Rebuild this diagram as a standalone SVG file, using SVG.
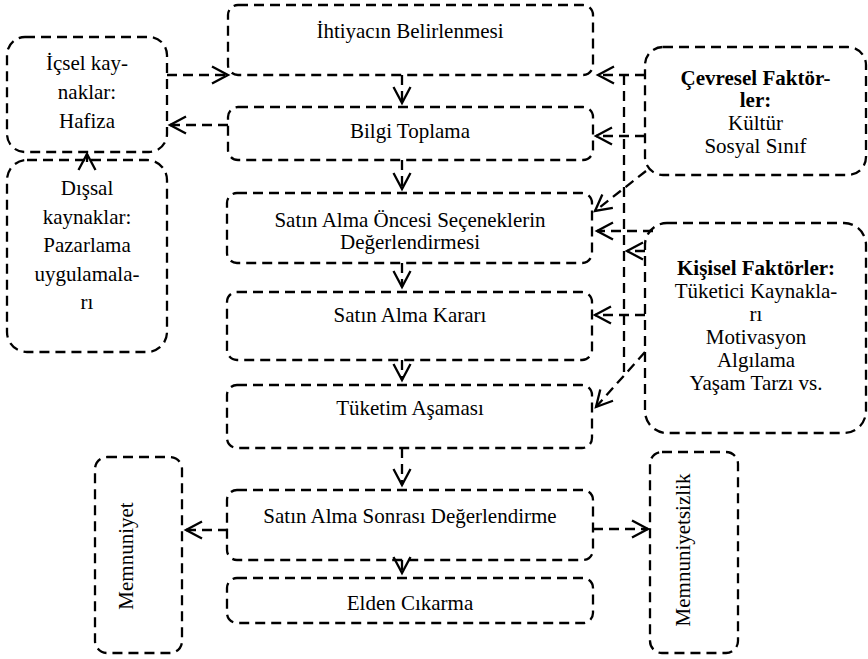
<svg xmlns="http://www.w3.org/2000/svg" width="868" height="659" viewBox="0 0 868 659">
<style>
.box{fill:none;stroke:#000;stroke-width:2.3;stroke-dasharray:10 6}
.con{fill:none;stroke:#000;stroke-width:2.3;stroke-dasharray:10 6}
.arr{marker-end:url(#arr)}
text{font-family:"Liberation Serif","Times New Roman",serif;font-size:21px;fill:#000;text-anchor:middle}
.b{font-weight:bold}
</style>
<defs>
<marker id="arr" viewBox="-19 -11 22 22" refX="0" refY="0" markerWidth="22" markerHeight="22" orient="auto" markerUnits="userSpaceOnUse">
<path d="M-16,-8.5 L0,0 L-16,8.5" fill="none" stroke="#000" stroke-width="2.3" stroke-dasharray="none"/>
</marker>
</defs>
<rect width="868" height="659" fill="#fff"/>

<g id="n-ihtiyac"><rect class="box" x="228" y="5" width="365" height="70" rx="10"/><text x="410" y="38">İhtiyacın Belirlenmesi</text></g>
<g id="n-bilgi"><rect class="box" x="228" y="107" width="365" height="53" rx="10"/><text x="410" y="138">Bilgi Toplama</text></g>
<g id="n-oncesi"><rect class="box" x="227" y="193" width="365" height="70" rx="10"/><text x="410" y="227">Satın Alma Öncesi Seçeneklerin</text><text x="410" y="249">Değerlendirmesi</text></g>
<g id="n-karar"><rect class="box" x="227" y="292" width="365" height="68" rx="10"/><text x="410" y="322">Satın Alma Kararı</text></g>
<g id="n-tuketim"><rect class="box" x="227" y="385" width="365" height="63" rx="10"/><text x="410" y="415">Tüketim Aşaması</text></g>
<g id="n-sonrasi"><rect class="box" x="227" y="490" width="366" height="70" rx="10"/><text x="410" y="523">Satın Alma Sonrası Değerlendirme</text></g>
<g id="n-elden"><rect class="box" x="227" y="578" width="366" height="45" rx="10"/><text x="410" y="610">Elden Cıkarma</text></g>

<g id="n-icsel"><rect class="box" x="7" y="37" width="160" height="115" rx="18"/><text x="87" y="70">İçsel kay-</text><text x="87" y="99">naklar:</text><text x="87" y="128">Hafiza</text></g>
<g id="n-dissal"><rect class="box" x="7" y="160" width="160" height="192" rx="20"/><text x="87" y="195">Dışsal</text><text x="87" y="223.5">kaynaklar:</text><text x="87" y="252">Pazarlama</text><text x="87" y="280.5">uygulamala-</text><text x="87" y="309">rı</text></g>

<g id="n-cevresel"><rect class="box" x="645" y="47" width="221" height="128" rx="18"/><text class="b" x="755.5" y="85">Çevresel Faktör-</text><text class="b" x="755.5" y="107">ler:</text><text x="755.5" y="130">Kültür</text><text x="755.5" y="153">Sosyal Sınıf</text></g>
<g id="n-kisisel"><rect class="box" x="645" y="223" width="221" height="210" rx="22"/><text class="b" x="756" y="275">Kişisel Faktörler:</text><text x="756" y="298">Tüketici Kaynakla-</text><text x="756" y="321">rı</text><text x="756" y="344">Motivasyon</text><text x="756" y="367">Algılama</text><text x="756" y="390">Yaşam Tarzı vs.</text></g>

<g id="n-memnuniyet"><rect class="box" x="95" y="457" width="87" height="196" rx="12"/><text transform="translate(133,556) rotate(-90)" x="0" y="0">Memnuniyet</text></g>
<g id="n-memnuniyetsizlik"><rect class="box" x="650" y="452" width="88" height="201" rx="12"/><text transform="translate(690,550) rotate(-90)" x="0" y="0">Memnuniyetsizlik</text></g>

<g id="connectors">
<path class="con arr" d="M167,75 H228"/>
<path class="con arr" d="M228,125 H170"/>
<path class="con arr" d="M87,162 V154"/>
<path class="con arr" d="M402,75 V103"/>
<path class="con arr" d="M402,160 V189"/>
<path class="con arr" d="M402,263 V287"/>
<path class="con arr" d="M402,360 V380"/>
<path class="con arr" d="M402,448 V485"/>
<path class="con arr" d="M402,560 V573"/>
<path class="con arr" d="M228,530 H186"/>
<path class="con arr" d="M593,529 H648"/>
<path class="con arr" d="M645,75 H598"/>
<path class="con arr" d="M645,136 H596"/>
<path class="con arr" d="M646,171 L595,211"/>
<path class="con arr" d="M653,231 H597"/>
<path class="con arr" d="M645,251 H627"/>
<path class="con arr" d="M645,315 H595"/>
<path class="con arr" d="M645,352 L596,407"/>
<path class="con" d="M624,75 V372"/>
</g>
</svg>
